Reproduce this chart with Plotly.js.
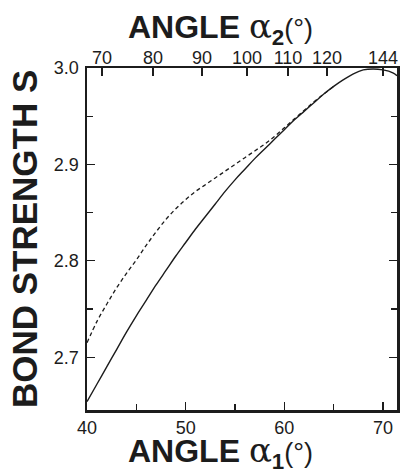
<!DOCTYPE html>
<html>
<head>
<meta charset="utf-8">
<script src="https://cdn.plot.ly/plotly-3.0.1.min.js"></script>
<style>html,body{margin:0;padding:0;background:#fff;}#chart{width:417px;height:470px;}</style>
</head>
<body>
<div id="chart"></div>
<script>
// Solid curve: bond strength S vs angle alpha1
const alpha1Solid = [40,41,42,43,44,45,46,47,48,49,50,51,52,53,54,55,56,57,58,59,60,61,62,63,64,65,66,67,68,69,70,71,71.42];
const sSolid = [2.654,2.672,2.690,2.708,2.726,2.743,2.759,2.775,2.790,2.805,2.819,2.833,2.846,2.859,2.872,2.884,2.895,2.906,2.916,2.926,2.936,2.946,2.955,2.964,2.973,2.981,2.988,2.994,2.998,2.999,2.998,2.995,2.992];
// Dashed curve
const alpha1Dashed = [40,41,42,43,44,45,46,47,48,49,50,51,52,53,54,55,56,57,58,59,60,61,62,63,64,65];
const sDashed = [2.715,2.737,2.755,2.772,2.787,2.801,2.816,2.830,2.843,2.854,2.8635,2.872,2.879,2.886,2.893,2.900,2.907,2.914,2.921,2.929,2.938,2.947,2.956,2.965,2.973,2.981];
// Top axis: alpha2 labels and the alpha1 value each corresponds to
const alpha2Labels = ['70','80','90','100','110','120','144'];
const alpha2AsAlpha1 = [41.52,46.69,51.65,56.22,60.37,64.32,70.0];
// Axis ticks
const yTickVals = [2.7,2.8,2.9,3.0];
const yTickText = ['2.7','2.8','2.9','3.0'];
const yMinor = [2.75,2.85,2.95];
const xTickVals = [40,50,60,70];
const xMinor = [45,55,65];

const ink = '#1c1c1c';
const tickFont = {family:'Liberation Sans, Arial, sans-serif', size:18, color:ink};

const traces = [
  {x: alpha1Dashed, y: sDashed, type:'scatter', mode:'lines', line:{color:ink, width:1.3, dash:'4px,3px', shape:'spline', smoothing:1}, hoverinfo:'skip'},
  {x: alpha1Solid, y: sSolid, type:'scatter', mode:'lines', line:{color:ink, width:1.4, shape:'spline', smoothing:1}, hoverinfo:'skip'},
  {x: [alpha2AsAlpha1[0]], y: [2.8], xaxis:'x2', type:'scatter', mode:'markers', marker:{opacity:0}, hoverinfo:'skip'}
];

const titleHtml = (sub) => 'ANGLE <span style="font-family:DejaVu Serif;font-weight:normal;font-size:34px">α</span><sub>' + sub + '</sub><span style="font-weight:normal;font-size:27px">(°)</span>';

const layout = {
  width:417, height:470,
  margin:{l:87, r:20, t:68, b:60, pad:0},
  paper_bgcolor:'#fff', plot_bgcolor:'#fff',
  showlegend:false,
  xaxis:{
    range:[40,71.42], showgrid:false, zeroline:false,
    showline:true, linecolor:ink, linewidth:2.5, mirror:false,
    ticks:'inside', ticklen:8, tickwidth:1.3, tickcolor:ink,
    tickvals:xTickVals, ticktext:xTickVals.map(String), tickfont:tickFont,
    minor:{ticks:'inside', ticklen:6, tickwidth:1.3, tickcolor:ink, tickvals:xMinor}
  },
  xaxis2:{
    overlaying:'x', side:'top', matches:'x', range:[40,71.42],
    showgrid:false, zeroline:false,
    showline:true, linecolor:ink, linewidth:2.5,
    ticks:'inside', ticklen:8, tickwidth:1.3, tickcolor:ink,
    tickvals:alpha2AsAlpha1, ticktext:alpha2Labels, tickfont:tickFont, ticklabelstandoff:-6
  },
  yaxis:{
    range:[2.6453,3.0], showgrid:false, zeroline:false,
    showline:true, linecolor:ink, linewidth:2.5, mirror:'ticks',
    ticks:'inside', ticklen:8, tickwidth:1.3, tickcolor:ink,
    tickvals:yTickVals, ticktext:yTickText, tickfont:tickFont, ticklabelstandoff:2,
    minor:{ticks:'inside', ticklen:6, tickwidth:1.3, tickcolor:ink, tickvals:yMinor}
  },
  annotations:[
    {text:titleHtml(2), xref:'paper', yref:'paper', x:0.125, y:1.116, xanchor:'left', yanchor:'middle', showarrow:false,
     font:{family:'Liberation Sans, Arial, sans-serif', size:32, color:ink, weight:'bold'}},
    {text:titleHtml(1), xref:'paper', yref:'paper', x:0.125, y:-0.124, xanchor:'left', yanchor:'middle', showarrow:false,
     font:{family:'Liberation Sans, Arial, sans-serif', size:32, color:ink, weight:'bold'}},
    {text:'BOND STRENGTH S', xref:'paper', yref:'paper', x:-0.203, y:0.5, xanchor:'center', yanchor:'middle', textangle:-90, showarrow:false,
     font:{family:'Liberation Sans, Arial, sans-serif', size:35, color:ink, weight:'bold'}}
  ]
};

Plotly.newPlot('chart', traces, layout, {staticPlot:true, displayModeBar:false});
</script>
</body>
</html>
